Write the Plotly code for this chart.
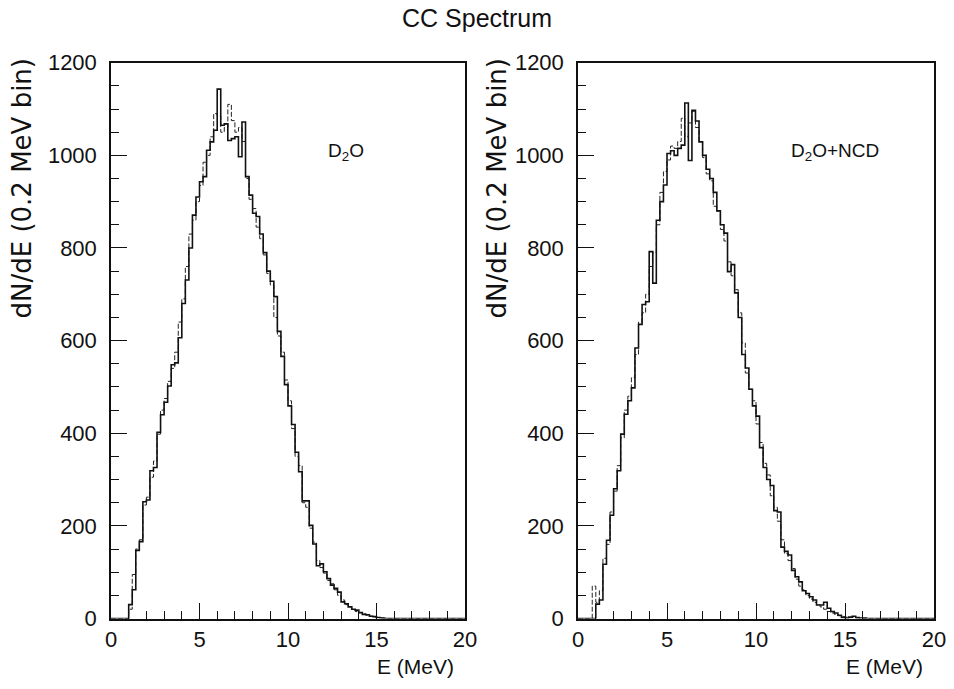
import plotly.graph_objects as go

# Bin edges (0.2 MeV bins from 0 to 20 MeV)
E_EDGES = [round(0.2 * i, 1) for i in range(101)]

# D2O phase: solid (data) and dashed (MC) histograms, counts per 0.2 MeV bin
D2O_SOLID = [
    0, 0, 0, 0, 0,
    30, 62, 147, 166, 252,
    256, 319, 326, 402, 440,
    467, 502, 548, 552, 606,
    680, 731, 800, 871, 910,
    943, 954, 1011, 1029, 1054,
    1143, 1065, 1068, 1032, 1036,
    1040, 997, 1072, 954, 914,
    875, 868, 830, 790, 750,
    728, 695, 620, 566, 505,
    459, 419, 359, 317, 254,
    254, 201, 161, 114, 118,
    101, 86, 72, 65, 57,
    36, 32, 25, 20, 18,
    13, 9, 8, 5, 4,
    2, 1, 0, 0, 0,
    0, 0, 0, 0, 0, 0, 0, 0, 0, 0,
    0, 0, 0, 0, 0, 0, 0, 0, 0, 0,
]
D2O_DASH = [
    0, 0, 0, 0, 0,
    20, 95, 150, 170, 245,
    262, 305, 340, 398, 450,
    475, 512, 540, 575, 640,
    690, 760, 830, 860, 900,
    935, 985, 1000, 1040, 1090,
    1085, 1050, 1060, 1110, 1075,
    1050, 1060, 1030, 950, 905,
    885, 845, 820, 785, 745,
    720, 650, 610, 575, 515,
    470, 410, 350, 330, 250,
    240, 195, 165, 125, 110,
    98, 82, 75, 62, 50,
    40, 30, 26, 20, 15,
    12, 10, 7, 5, 3,
    2, 1, 1, 0, 0,
    0, 0, 0, 0, 0, 0, 0, 0, 0, 0,
    0, 0, 0, 0, 0, 0, 0, 0, 0, 0,
]

# D2O+NCD phase
NCD_SOLID = [
    0, 0, 0, 0, 0,
    31, 40, 117, 169, 223,
    280, 319, 398, 441, 470,
    498, 584, 635, 678, 684,
    792, 724, 860, 900, 936,
    1004, 1010, 1000, 1015, 1022,
    1113, 989, 1097, 1074, 1029,
    1000, 970, 950, 920, 880,
    850, 832, 749, 764, 703,
    650, 570, 541, 495, 459,
    437, 369, 326, 300, 287,
    233, 230, 154, 145, 137,
    104, 90, 79, 60, 54,
    47, 40, 29, 29, 35,
    22, 15, 12, 7, 2,
    1, 3, 5, 2, 1,
    1, 0, 0, 0, 0, 0, 0, 0, 0, 0,
    0, 0, 0, 0, 0, 0, 0, 0, 0, 0,
]
NCD_DASH = [
    0, 0, 0, 0, 70,
    35, 60, 130, 160, 230,
    275, 330, 390, 450, 480,
    520, 570, 640, 660, 700,
    760, 790, 850, 920, 965,
    990, 1020, 1015, 1030, 1080,
    1040, 1070, 1095, 1060, 1030,
    995, 960, 945, 890, 880,
    840, 815, 770, 740, 710,
    660, 595, 530, 495, 470,
    420, 380, 335, 310, 265,
    240, 210, 170, 140, 125,
    108, 85, 70, 62, 50,
    42, 35, 30, 25, 20,
    15, 12, 9, 6, 4,
    3, 2, 2, 1, 1,
    0, 0, 0, 0, 0, 0, 0, 0, 0, 0,
    0, 0, 0, 0, 0, 0, 0, 0, 0, 0,
]

X_TICKS = [0, 5, 10, 15, 20]
Y_TICKS = [0, 200, 400, 600, 800, 1000, 1200]
PANEL_LABELS = ["D<sub>2</sub>O", "D<sub>2</sub>O+NCD"]
TITLE = "CC Spectrum"
Y_TITLE = "dN/dE (0.2 MeV bin)"
X_TITLE = "E (MeV)"

W, H = 954, 689
FONT = "Liberation Sans"
WIDE_FONT = "DejaVu Sans"


def step_y(vals):
    return list(vals) + [vals[-1]]


fig = go.Figure()

panels = [
    ("x", "y", D2O_SOLID, D2O_DASH),
    ("x2", "y2", NCD_SOLID, NCD_DASH),
]
for xa, ya, solid, dash in panels:
    fig.add_trace(go.Scatter(x=E_EDGES, y=step_y(dash), mode="lines",
                             line=dict(color="#222", width=1, shape="hv", dash="5px,2px"),
                             xaxis=xa, yaxis=ya, showlegend=False, hoverinfo="skip"))
    fig.add_trace(go.Scatter(x=E_EDGES, y=step_y(solid), mode="lines",
                             line=dict(color="#111", width=1.6, shape="hv"),
                             xaxis=xa, yaxis=ya, showlegend=False, hoverinfo="skip"))

# pixel geometry of the two frames
LEFT_X = (111, 465)
RIGHT_X = (578, 934)
Y_PIX = (62.7, 618.5)  # top, bottom
ydom = [1 - Y_PIX[1] / H, 1 - Y_PIX[0] / H]

axis_common = dict(
    showline=True, linecolor="#111", linewidth=1.5, mirror=True,
    ticks="inside", ticklen=16, tickwidth=1.3, tickcolor="#111",
    showgrid=False, zeroline=False, automargin=False,
    tickfont=dict(family=FONT, size=22, color="#111"),
)

xa_common = dict(axis_common, range=[0, 20], tickvals=X_TICKS,
                 minor=dict(dtick=1, ticklen=8, ticks="inside", tickcolor="#111", tickwidth=1.1, showgrid=False))
ya_common = dict(axis_common, range=[0, 1200], tickvals=Y_TICKS, ticklabelstandoff=8,
                 minor=dict(dtick=50, ticklen=8, ticks="inside", tickcolor="#111", tickwidth=1.1, showgrid=False))

fig.update_layout(
    width=W, height=H,
    margin=dict(l=0, r=0, t=0, b=0),
    paper_bgcolor="white", plot_bgcolor="white",
    xaxis=dict(xa_common, domain=[LEFT_X[0] / W, LEFT_X[1] / W], anchor="y"),
    yaxis=dict(ya_common, domain=ydom, anchor="x"),
    xaxis2=dict(xa_common, domain=[RIGHT_X[0] / W, RIGHT_X[1] / W], anchor="y2"),
    yaxis2=dict(ya_common, domain=ydom, anchor="x2"),
    font=dict(family=FONT, color="#111"),
)

ann = []
ann.append(dict(text=TITLE, x=477 / W, y=1 - 18 / H, xref="paper", yref="paper",
                xanchor="center", yanchor="middle", showarrow=False,
                font=dict(family=FONT, size=25, color="#111")))
for (lx, rx), label, lab_cx, ytitle_x in [(LEFT_X, PANEL_LABELS[0], 346, 22),
                                           (RIGHT_X, PANEL_LABELS[1], 835, 497)]:
    ann.append(dict(text=label, x=lab_cx / W, y=1 - 152 / H, xref="paper", yref="paper",
                    xanchor="center", yanchor="middle", showarrow=False,
                    font=dict(family=FONT, size=19, color="#111")))
    ann.append(dict(text=X_TITLE, x=(rx - 9) / W, y=1 - 666 / H, xref="paper", yref="paper",
                    xanchor="right", yanchor="middle", showarrow=False,
                    font=dict(family=FONT, size=21, color="#111")))
    ann.append(dict(text=Y_TITLE, x=ytitle_x / W, y=1 - 56 / H, xref="paper", yref="paper",
                    xanchor="center", yanchor="top", textangle=-90, showarrow=False,
                    font=dict(family=WIDE_FONT, size=26, color="#111")))
fig.update_layout(annotations=ann)

fig.write_html("out.html")
